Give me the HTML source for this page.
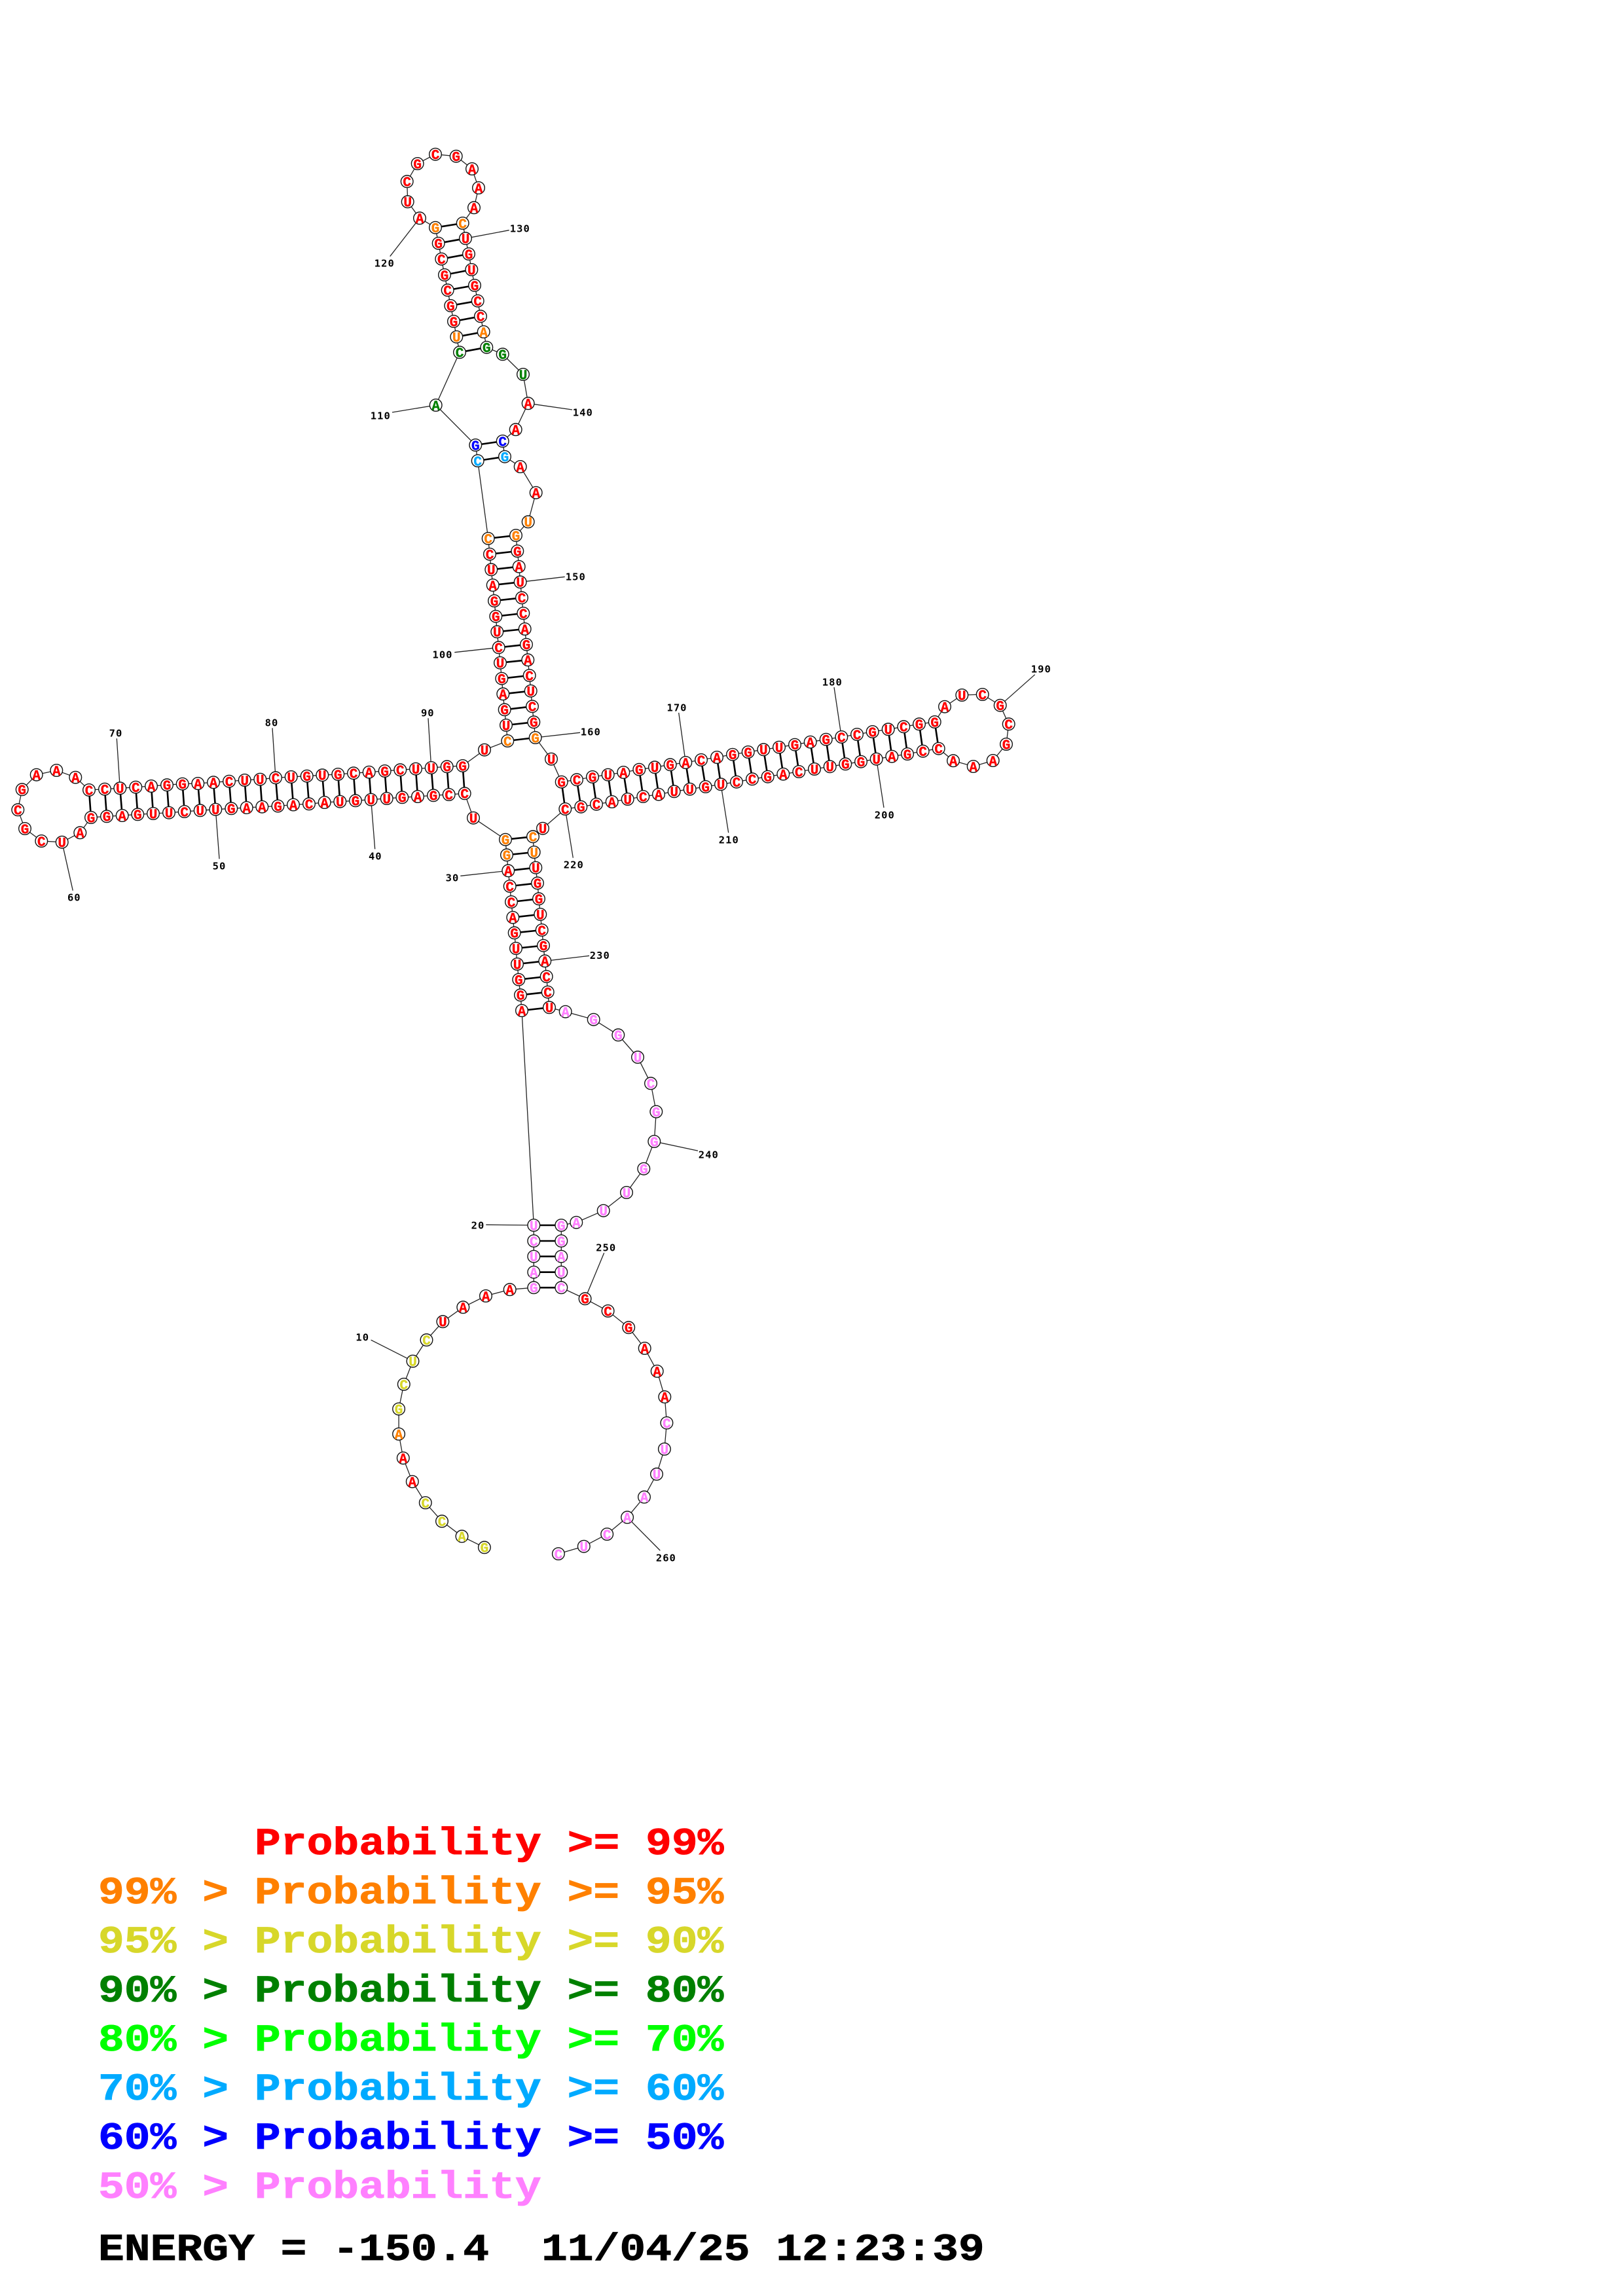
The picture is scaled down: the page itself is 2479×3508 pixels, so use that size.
<!DOCTYPE html>
<html><head><meta charset="utf-8"><title>RNA secondary structure</title>
<style>
html,body{margin:0;padding:0;background:#fff}
svg{display:block}
.n text{font:bold 21px "Liberation Mono",monospace;text-anchor:middle;stroke-width:.4}
.n g[fill="#f00"]{stroke:#f00}.n g[fill="#ff8000"]{stroke:#ff8000}.n g[fill="#d7d72a"]{stroke:#d7d72a}.n g[fill="#008000"]{stroke:#008000}.n g[fill="#00aaff"]{stroke:#00aaff}.n g[fill="#00f"]{stroke:#00f}.n g[fill="#ff80ff"]{stroke:#ff80ff}
.l text{font:bold 15.5px "DejaVu Sans Mono",monospace;letter-spacing:1px;text-anchor:middle;fill:#000}
.t text{font:bold 58px "Liberation Mono",monospace;stroke-width:.8}
</style></head><body>
<svg xmlns="http://www.w3.org/2000/svg" width="2479" height="3508" viewBox="0 0 2479 3508">
<rect width="2479" height="3508" fill="#fff"/>
<polyline fill="none" stroke="#222" stroke-width="1.3" points="739.9,2364.3 705.5,2347.3 675,2324.3 649.8,2296 629.8,2263.7 615.8,2227.7 609.1,2191 609.1,2152.7 616.8,2115 630.5,2079.7 651.5,2047.3 676.4,2019.3 707.3,1997.3 742,1980 778.7,1970.3 815.3,1967.3 815.3,1943.7 815.3,1919.7 815.3,1896 815.3,1872 797,1544 795,1520.3 792.3,1496.7 790,1473 788,1449 785.7,1425.3 783.3,1401.7 781,1378 778.7,1354 776.3,1330.3 774,1306.3 772,1282.7 723,1249.7 709.7,1212.3 685.7,1214 662,1215.3 638,1217 614.3,1218.3 590.7,1220 566.7,1221.7 543,1223.3 519.3,1224.7 495.7,1226 472,1228.3 448,1229.5 424.5,1231.5 400.3,1232.7 376.7,1234 353.3,1235.3 329.3,1236.7 305.7,1238.3 281.7,1240 258,1241.7 234,1243 210.3,1244.3 186.7,1246 163,1247.3 139,1249 122.3,1272.3 94.7,1286.7 63.3,1285 38,1266 27.3,1237.3 33.7,1206.3 55.7,1183.7 86.3,1177 115.3,1187.7 136,1207 160,1205.7 183.3,1204.3 207.3,1202.7 231,1201 255,1199.3 278.7,1197.7 302.3,1197 326,1195.3 350,1193.7 373.7,1192 397.3,1190.7 421,1188.3 444.7,1187 468.7,1185.7 492.3,1184.3 516.3,1183 540,1181.3 563.7,1179.7 587.7,1178 611.3,1176.3 635,1174.7 658.7,1173 682.7,1171.3 706.7,1170 740,1145.7 775.3,1132 773,1108 770.7,1084.3 768.3,1060.3 766.3,1036.7 764,1012.7 761.7,989.3 759.3,965.3 757.3,941.7 755,918 752.7,894 750.3,870.3 748,846.7 745.7,822.7 729.7,704 726.3,680 665.7,619 702,538.3 697.3,514.7 693,491 688.3,467 683.7,443.3 679,420 674.3,395.7 669.7,371.7 665,347.7 641,333.3 622.7,308.3 621.7,277.3 637.7,250 665,235.7 696.7,238.7 721,258 731,287 724,317.3 706.7,341 711,364.3 716,388 720.3,412 725,436 729.7,459.7 734,483.3 738.7,507 743.3,530.7 767.7,541.3 799,572 806.7,616.3 787.7,656.3 767.7,674 771,697.7 794.7,713 818.7,752.7 806.7,797.3 788,818 790.3,842 792.7,865.7 794.7,889.3 797,913.3 799.3,937 801.7,961 804,984.7 806.3,1008.3 808.7,1032 810.7,1055.7 813,1079.3 815.3,1103.3 817.7,1127 842,1159.7 857.7,1194.7 881,1191.3 905,1187 928.7,1183.7 952.3,1180 976.3,1175.7 1000,1172.3 1023.7,1168.3 1047.3,1165 1071,1161 1095,1157 1119,1152.7 1142.7,1149 1166.3,1145.3 1190,1141.7 1214,1137.7 1237.7,1133.7 1261.7,1129.7 1285.3,1126 1309,1122 1332.7,1118 1356.7,1114.3 1380.3,1110.3 1404,1106.3 1427.7,1103 1443,1079.7 1469.3,1062 1500.7,1061 1527.7,1077.7 1540.7,1106.3 1537,1137 1516.7,1162 1486.7,1171 1456,1162.3 1433.7,1143.7 1409.7,1147.7 1386,1152 1362.3,1155.7 1338.7,1159.7 1315,1163.7 1291.3,1167.3 1267.7,1171.3 1244,1175 1220.3,1179 1196.3,1182.7 1172.7,1186.7 1149,1190.3 1125,1194.7 1101,1198.3 1077.7,1202 1053.7,1205.7 1029.7,1209.3 1006,1213.7 982.3,1217 958.7,1221 934.7,1225 911,1228.7 887.3,1232.7 863.3,1236 829,1265.7 814,1278.3 815.7,1302 818.3,1325.7 821,1349.3 823,1373.3 825.3,1397 827.7,1421 830,1444.7 832.3,1468.3 834.7,1492 836.7,1515.7 839,1539.3 863.7,1545.7 906.7,1557.7 944.3,1581.3 974,1615.3 994,1655.3 1002.3,1698.5 999.3,1744 983.3,1785.7 957,1822 921.7,1849.7 880.3,1867.7 857.3,1872 857.3,1896 857.3,1919.7 857.3,1943.7 857.3,1967.3 893.6,1984.3 928.6,2003 960.2,2028.3 984.7,2060 1003.7,2095 1015.3,2134.3 1018.4,2174 1014.9,2214 1003,2252.3 984,2287.3 958.1,2318.3 927.2,2344 891.8,2362.7 852.9,2374"/>
<path fill="none" stroke="#000" stroke-width="2.6" d="M815.3 1967.3L857.3 1967.3M815.3 1943.7L857.3 1943.7M815.3 1919.7L857.3 1919.7M815.3 1896L857.3 1896M815.3 1872L857.3 1872M797 1544L839 1539.3M795 1520.3L836.7 1515.7M792.3 1496.7L834.7 1492M790 1473L832.3 1468.3M788 1449L830 1444.7M785.7 1425.3L827.7 1421M783.3 1401.7L825.3 1397M781 1378L823 1373.3M778.7 1354L821 1349.3M776.3 1330.3L818.3 1325.7M774 1306.3L815.7 1302M772 1282.7L814 1278.3M709.7 1212.3L706.7 1170M685.7 1214L682.7 1171.3M662 1215.3L658.7 1173M638 1217L635 1174.7M614.3 1218.3L611.3 1176.3M590.7 1220L587.7 1178M566.7 1221.7L563.7 1179.7M543 1223.3L540 1181.3M519.3 1224.7L516.3 1183M495.7 1226L492.3 1184.3M472 1228.3L468.7 1185.7M448 1229.5L444.7 1187M424.5 1231.5L421 1188.3M400.3 1232.7L397.3 1190.7M376.7 1234L373.7 1192M353.3 1235.3L350 1193.7M329.3 1236.7L326 1195.3M305.7 1238.3L302.3 1197M281.7 1240L278.7 1197.7M258 1241.7L255 1199.3M234 1243L231 1201M210.3 1244.3L207.3 1202.7M186.7 1246L183.3 1204.3M163 1247.3L160 1205.7M139 1249L136 1207M775.3 1132L817.7 1127M773 1108L815.3 1103.3M770.7 1084.3L813 1079.3M768.3 1060.3L810.7 1055.7M766.3 1036.7L808.7 1032M764 1012.7L806.3 1008.3M761.7 989.3L804 984.7M759.3 965.3L801.7 961M757.3 941.7L799.3 937M755 918L797 913.3M752.7 894L794.7 889.3M750.3 870.3L792.7 865.7M748 846.7L790.3 842M745.7 822.7L788 818M729.7 704L771 697.7M726.3 680L767.7 674M702 538.3L743.3 530.7M697.3 514.7L738.7 507M693 491L734 483.3M688.3 467L729.7 459.7M683.7 443.3L725 436M679 420L720.3 412M674.3 395.7L716 388M669.7 371.7L711 364.3M665 347.7L706.7 341M857.7 1194.7L863.3 1236M881 1191.3L887.3 1232.7M905 1187L911 1228.7M928.7 1183.7L934.7 1225M952.3 1180L958.7 1221M976.3 1175.7L982.3 1217M1000 1172.3L1006 1213.7M1023.7 1168.3L1029.7 1209.3M1047.3 1165L1053.7 1205.7M1071 1161L1077.7 1202M1095 1157L1101 1198.3M1119 1152.7L1125 1194.7M1142.7 1149L1149 1190.3M1166.3 1145.3L1172.7 1186.7M1190 1141.7L1196.3 1182.7M1214 1137.7L1220.3 1179M1237.7 1133.7L1244 1175M1261.7 1129.7L1267.7 1171.3M1285.3 1126L1291.3 1167.3M1309 1122L1315 1163.7M1332.7 1118L1338.7 1159.7M1356.7 1114.3L1362.3 1155.7M1380.3 1110.3L1386 1152M1404 1106.3L1409.7 1147.7M1427.7 1103L1433.7 1143.7"/>
<path fill="none" stroke="#222" stroke-width="1.3" d="M641 333.3L595.7 391.7M711 364.3L777.7 351.7M665.7 619L599 630M806.7 616.3L874 626M794.7 889.3L862.7 881.3M761.7 989.3L694.3 996.7M658.7 1173L654 1097.3M817.7 1127L886 1119.3M183.3 1204.3L178.3 1128.3M421 1188.3L416 1112.3M94.7 1286.7L111.3 1360.7M329.3 1236.7L335 1312.3M566.7 1221.7L572.7 1297.3M776.3 1330.3L703.3 1338.3M1047.3 1165L1036.7 1089M1101 1198.3L1112.7 1272.3M863.3 1236L875.3 1310.7M1285.3 1126L1274 1050M1527.7 1077.7L1580.7 1030.7M1338.7 1159.7L1350 1234M832.3 1468.3L900 1460.3M815.3 1872L742.3 1871.3M999.3 1744L1066 1758.3M893.6 1984.3L922.7 1914.3M630.5 2079.7L566.6 2047.3M958.1 2318.3L1008.3 2369"/>
<g fill="#fff" stroke="#111" stroke-width="1.4">
<circle cx="739.9" cy="2364.3" r="9.3"/><circle cx="705.5" cy="2347.3" r="9.3"/><circle cx="675" cy="2324.3" r="9.3"/><circle cx="649.8" cy="2296" r="9.3"/><circle cx="629.8" cy="2263.7" r="9.3"/><circle cx="615.8" cy="2227.7" r="9.3"/><circle cx="609.1" cy="2191" r="9.3"/><circle cx="609.1" cy="2152.7" r="9.3"/><circle cx="616.8" cy="2115" r="9.3"/><circle cx="630.5" cy="2079.7" r="9.3"/><circle cx="651.5" cy="2047.3" r="9.3"/><circle cx="676.4" cy="2019.3" r="9.3"/><circle cx="707.3" cy="1997.3" r="9.3"/><circle cx="742" cy="1980" r="9.3"/><circle cx="778.7" cy="1970.3" r="9.3"/><circle cx="815.3" cy="1967.3" r="9.3"/><circle cx="815.3" cy="1943.7" r="9.3"/><circle cx="815.3" cy="1919.7" r="9.3"/><circle cx="815.3" cy="1896" r="9.3"/><circle cx="815.3" cy="1872" r="9.3"/><circle cx="797" cy="1544" r="9.3"/><circle cx="795" cy="1520.3" r="9.3"/><circle cx="792.3" cy="1496.7" r="9.3"/><circle cx="790" cy="1473" r="9.3"/><circle cx="788" cy="1449" r="9.3"/><circle cx="785.7" cy="1425.3" r="9.3"/><circle cx="783.3" cy="1401.7" r="9.3"/><circle cx="781" cy="1378" r="9.3"/><circle cx="778.7" cy="1354" r="9.3"/><circle cx="776.3" cy="1330.3" r="9.3"/><circle cx="774" cy="1306.3" r="9.3"/><circle cx="772" cy="1282.7" r="9.3"/><circle cx="723" cy="1249.7" r="9.3"/><circle cx="709.7" cy="1212.3" r="9.3"/><circle cx="685.7" cy="1214" r="9.3"/><circle cx="662" cy="1215.3" r="9.3"/><circle cx="638" cy="1217" r="9.3"/><circle cx="614.3" cy="1218.3" r="9.3"/><circle cx="590.7" cy="1220" r="9.3"/><circle cx="566.7" cy="1221.7" r="9.3"/><circle cx="543" cy="1223.3" r="9.3"/><circle cx="519.3" cy="1224.7" r="9.3"/><circle cx="495.7" cy="1226" r="9.3"/><circle cx="472" cy="1228.3" r="9.3"/><circle cx="448" cy="1229.5" r="9.3"/><circle cx="424.5" cy="1231.5" r="9.3"/><circle cx="400.3" cy="1232.7" r="9.3"/><circle cx="376.7" cy="1234" r="9.3"/><circle cx="353.3" cy="1235.3" r="9.3"/><circle cx="329.3" cy="1236.7" r="9.3"/><circle cx="305.7" cy="1238.3" r="9.3"/><circle cx="281.7" cy="1240" r="9.3"/><circle cx="258" cy="1241.7" r="9.3"/><circle cx="234" cy="1243" r="9.3"/><circle cx="210.3" cy="1244.3" r="9.3"/><circle cx="186.7" cy="1246" r="9.3"/><circle cx="163" cy="1247.3" r="9.3"/><circle cx="139" cy="1249" r="9.3"/><circle cx="122.3" cy="1272.3" r="9.3"/><circle cx="94.7" cy="1286.7" r="9.3"/><circle cx="63.3" cy="1285" r="9.3"/><circle cx="38" cy="1266" r="9.3"/><circle cx="27.3" cy="1237.3" r="9.3"/><circle cx="33.7" cy="1206.3" r="9.3"/><circle cx="55.7" cy="1183.7" r="9.3"/><circle cx="86.3" cy="1177" r="9.3"/><circle cx="115.3" cy="1187.7" r="9.3"/><circle cx="136" cy="1207" r="9.3"/><circle cx="160" cy="1205.7" r="9.3"/><circle cx="183.3" cy="1204.3" r="9.3"/><circle cx="207.3" cy="1202.7" r="9.3"/><circle cx="231" cy="1201" r="9.3"/><circle cx="255" cy="1199.3" r="9.3"/><circle cx="278.7" cy="1197.7" r="9.3"/><circle cx="302.3" cy="1197" r="9.3"/><circle cx="326" cy="1195.3" r="9.3"/><circle cx="350" cy="1193.7" r="9.3"/><circle cx="373.7" cy="1192" r="9.3"/><circle cx="397.3" cy="1190.7" r="9.3"/><circle cx="421" cy="1188.3" r="9.3"/><circle cx="444.7" cy="1187" r="9.3"/><circle cx="468.7" cy="1185.7" r="9.3"/><circle cx="492.3" cy="1184.3" r="9.3"/><circle cx="516.3" cy="1183" r="9.3"/><circle cx="540" cy="1181.3" r="9.3"/><circle cx="563.7" cy="1179.7" r="9.3"/><circle cx="587.7" cy="1178" r="9.3"/><circle cx="611.3" cy="1176.3" r="9.3"/><circle cx="635" cy="1174.7" r="9.3"/><circle cx="658.7" cy="1173" r="9.3"/><circle cx="682.7" cy="1171.3" r="9.3"/><circle cx="706.7" cy="1170" r="9.3"/><circle cx="740" cy="1145.7" r="9.3"/><circle cx="775.3" cy="1132" r="9.3"/><circle cx="773" cy="1108" r="9.3"/><circle cx="770.7" cy="1084.3" r="9.3"/><circle cx="768.3" cy="1060.3" r="9.3"/><circle cx="766.3" cy="1036.7" r="9.3"/><circle cx="764" cy="1012.7" r="9.3"/><circle cx="761.7" cy="989.3" r="9.3"/><circle cx="759.3" cy="965.3" r="9.3"/><circle cx="757.3" cy="941.7" r="9.3"/><circle cx="755" cy="918" r="9.3"/><circle cx="752.7" cy="894" r="9.3"/><circle cx="750.3" cy="870.3" r="9.3"/><circle cx="748" cy="846.7" r="9.3"/><circle cx="745.7" cy="822.7" r="9.3"/><circle cx="729.7" cy="704" r="9.3"/><circle cx="726.3" cy="680" r="9.3"/><circle cx="665.7" cy="619" r="9.3"/><circle cx="702" cy="538.3" r="9.3"/><circle cx="697.3" cy="514.7" r="9.3"/><circle cx="693" cy="491" r="9.3"/><circle cx="688.3" cy="467" r="9.3"/><circle cx="683.7" cy="443.3" r="9.3"/><circle cx="679" cy="420" r="9.3"/><circle cx="674.3" cy="395.7" r="9.3"/><circle cx="669.7" cy="371.7" r="9.3"/><circle cx="665" cy="347.7" r="9.3"/><circle cx="641" cy="333.3" r="9.3"/><circle cx="622.7" cy="308.3" r="9.3"/><circle cx="621.7" cy="277.3" r="9.3"/><circle cx="637.7" cy="250" r="9.3"/><circle cx="665" cy="235.7" r="9.3"/><circle cx="696.7" cy="238.7" r="9.3"/><circle cx="721" cy="258" r="9.3"/><circle cx="731" cy="287" r="9.3"/><circle cx="724" cy="317.3" r="9.3"/><circle cx="706.7" cy="341" r="9.3"/><circle cx="711" cy="364.3" r="9.3"/><circle cx="716" cy="388" r="9.3"/><circle cx="720.3" cy="412" r="9.3"/><circle cx="725" cy="436" r="9.3"/><circle cx="729.7" cy="459.7" r="9.3"/><circle cx="734" cy="483.3" r="9.3"/><circle cx="738.7" cy="507" r="9.3"/><circle cx="743.3" cy="530.7" r="9.3"/><circle cx="767.7" cy="541.3" r="9.3"/><circle cx="799" cy="572" r="9.3"/><circle cx="806.7" cy="616.3" r="9.3"/><circle cx="787.7" cy="656.3" r="9.3"/><circle cx="767.7" cy="674" r="9.3"/><circle cx="771" cy="697.7" r="9.3"/><circle cx="794.7" cy="713" r="9.3"/><circle cx="818.7" cy="752.7" r="9.3"/><circle cx="806.7" cy="797.3" r="9.3"/><circle cx="788" cy="818" r="9.3"/><circle cx="790.3" cy="842" r="9.3"/><circle cx="792.7" cy="865.7" r="9.3"/><circle cx="794.7" cy="889.3" r="9.3"/><circle cx="797" cy="913.3" r="9.3"/><circle cx="799.3" cy="937" r="9.3"/><circle cx="801.7" cy="961" r="9.3"/><circle cx="804" cy="984.7" r="9.3"/><circle cx="806.3" cy="1008.3" r="9.3"/><circle cx="808.7" cy="1032" r="9.3"/><circle cx="810.7" cy="1055.7" r="9.3"/><circle cx="813" cy="1079.3" r="9.3"/><circle cx="815.3" cy="1103.3" r="9.3"/><circle cx="817.7" cy="1127" r="9.3"/><circle cx="842" cy="1159.7" r="9.3"/><circle cx="857.7" cy="1194.7" r="9.3"/><circle cx="881" cy="1191.3" r="9.3"/><circle cx="905" cy="1187" r="9.3"/><circle cx="928.7" cy="1183.7" r="9.3"/><circle cx="952.3" cy="1180" r="9.3"/><circle cx="976.3" cy="1175.7" r="9.3"/><circle cx="1000" cy="1172.3" r="9.3"/><circle cx="1023.7" cy="1168.3" r="9.3"/><circle cx="1047.3" cy="1165" r="9.3"/><circle cx="1071" cy="1161" r="9.3"/><circle cx="1095" cy="1157" r="9.3"/><circle cx="1119" cy="1152.7" r="9.3"/><circle cx="1142.7" cy="1149" r="9.3"/><circle cx="1166.3" cy="1145.3" r="9.3"/><circle cx="1190" cy="1141.7" r="9.3"/><circle cx="1214" cy="1137.7" r="9.3"/><circle cx="1237.7" cy="1133.7" r="9.3"/><circle cx="1261.7" cy="1129.7" r="9.3"/><circle cx="1285.3" cy="1126" r="9.3"/><circle cx="1309" cy="1122" r="9.3"/><circle cx="1332.7" cy="1118" r="9.3"/><circle cx="1356.7" cy="1114.3" r="9.3"/><circle cx="1380.3" cy="1110.3" r="9.3"/><circle cx="1404" cy="1106.3" r="9.3"/><circle cx="1427.7" cy="1103" r="9.3"/><circle cx="1443" cy="1079.7" r="9.3"/><circle cx="1469.3" cy="1062" r="9.3"/><circle cx="1500.7" cy="1061" r="9.3"/><circle cx="1527.7" cy="1077.7" r="9.3"/><circle cx="1540.7" cy="1106.3" r="9.3"/><circle cx="1537" cy="1137" r="9.3"/><circle cx="1516.7" cy="1162" r="9.3"/><circle cx="1486.7" cy="1171" r="9.3"/><circle cx="1456" cy="1162.3" r="9.3"/><circle cx="1433.7" cy="1143.7" r="9.3"/><circle cx="1409.7" cy="1147.7" r="9.3"/><circle cx="1386" cy="1152" r="9.3"/><circle cx="1362.3" cy="1155.7" r="9.3"/><circle cx="1338.7" cy="1159.7" r="9.3"/><circle cx="1315" cy="1163.7" r="9.3"/><circle cx="1291.3" cy="1167.3" r="9.3"/><circle cx="1267.7" cy="1171.3" r="9.3"/><circle cx="1244" cy="1175" r="9.3"/><circle cx="1220.3" cy="1179" r="9.3"/><circle cx="1196.3" cy="1182.7" r="9.3"/><circle cx="1172.7" cy="1186.7" r="9.3"/><circle cx="1149" cy="1190.3" r="9.3"/><circle cx="1125" cy="1194.7" r="9.3"/><circle cx="1101" cy="1198.3" r="9.3"/><circle cx="1077.7" cy="1202" r="9.3"/><circle cx="1053.7" cy="1205.7" r="9.3"/><circle cx="1029.7" cy="1209.3" r="9.3"/><circle cx="1006" cy="1213.7" r="9.3"/><circle cx="982.3" cy="1217" r="9.3"/><circle cx="958.7" cy="1221" r="9.3"/><circle cx="934.7" cy="1225" r="9.3"/><circle cx="911" cy="1228.7" r="9.3"/><circle cx="887.3" cy="1232.7" r="9.3"/><circle cx="863.3" cy="1236" r="9.3"/><circle cx="829" cy="1265.7" r="9.3"/><circle cx="814" cy="1278.3" r="9.3"/><circle cx="815.7" cy="1302" r="9.3"/><circle cx="818.3" cy="1325.7" r="9.3"/><circle cx="821" cy="1349.3" r="9.3"/><circle cx="823" cy="1373.3" r="9.3"/><circle cx="825.3" cy="1397" r="9.3"/><circle cx="827.7" cy="1421" r="9.3"/><circle cx="830" cy="1444.7" r="9.3"/><circle cx="832.3" cy="1468.3" r="9.3"/><circle cx="834.7" cy="1492" r="9.3"/><circle cx="836.7" cy="1515.7" r="9.3"/><circle cx="839" cy="1539.3" r="9.3"/><circle cx="863.7" cy="1545.7" r="9.3"/><circle cx="906.7" cy="1557.7" r="9.3"/><circle cx="944.3" cy="1581.3" r="9.3"/><circle cx="974" cy="1615.3" r="9.3"/><circle cx="994" cy="1655.3" r="9.3"/><circle cx="1002.3" cy="1698.5" r="9.3"/><circle cx="999.3" cy="1744" r="9.3"/><circle cx="983.3" cy="1785.7" r="9.3"/><circle cx="957" cy="1822" r="9.3"/><circle cx="921.7" cy="1849.7" r="9.3"/><circle cx="880.3" cy="1867.7" r="9.3"/><circle cx="857.3" cy="1872" r="9.3"/><circle cx="857.3" cy="1896" r="9.3"/><circle cx="857.3" cy="1919.7" r="9.3"/><circle cx="857.3" cy="1943.7" r="9.3"/><circle cx="857.3" cy="1967.3" r="9.3"/><circle cx="893.6" cy="1984.3" r="9.3"/><circle cx="928.6" cy="2003" r="9.3"/><circle cx="960.2" cy="2028.3" r="9.3"/><circle cx="984.7" cy="2060" r="9.3"/><circle cx="1003.7" cy="2095" r="9.3"/><circle cx="1015.3" cy="2134.3" r="9.3"/><circle cx="1018.4" cy="2174" r="9.3"/><circle cx="1014.9" cy="2214" r="9.3"/><circle cx="1003" cy="2252.3" r="9.3"/><circle cx="984" cy="2287.3" r="9.3"/><circle cx="958.1" cy="2318.3" r="9.3"/><circle cx="927.2" cy="2344" r="9.3"/><circle cx="891.8" cy="2362.7" r="9.3"/><circle cx="852.9" cy="2374" r="9.3"/>
</g>
<g class="n" transform="translate(0,7.3)">
<g fill="#d7d72a"><text x="739.9" y="2364.3">G</text><text x="705.5" y="2347.3">A</text><text x="675" y="2324.3">C</text><text x="649.8" y="2296">C</text></g>
<g fill="#f00"><text x="629.8" y="2263.7">A</text><text x="615.8" y="2227.7">A</text></g>
<g fill="#ff8000"><text x="609.1" y="2191">A</text></g>
<g fill="#d7d72a"><text x="609.1" y="2152.7">G</text><text x="616.8" y="2115">C</text><text x="630.5" y="2079.7">U</text><text x="651.5" y="2047.3">C</text></g>
<g fill="#f00"><text x="676.4" y="2019.3">U</text><text x="707.3" y="1997.3">A</text><text x="742" y="1980">A</text><text x="778.7" y="1970.3">A</text></g>
<g fill="#ff80ff"><text x="815.3" y="1967.3">G</text><text x="815.3" y="1943.7">A</text><text x="815.3" y="1919.7">U</text><text x="815.3" y="1896">C</text><text x="815.3" y="1872">U</text></g>
<g fill="#f00"><text x="797" y="1544">A</text><text x="795" y="1520.3">G</text><text x="792.3" y="1496.7">G</text><text x="790" y="1473">U</text><text x="788" y="1449">U</text><text x="785.7" y="1425.3">G</text><text x="783.3" y="1401.7">A</text><text x="781" y="1378">C</text><text x="778.7" y="1354">C</text><text x="776.3" y="1330.3">A</text></g>
<g fill="#ff8000"><text x="774" y="1306.3">G</text><text x="772" y="1282.7">G</text></g>
<g fill="#f00"><text x="723" y="1249.7">U</text><text x="709.7" y="1212.3">C</text><text x="685.7" y="1214">C</text><text x="662" y="1215.3">G</text><text x="638" y="1217">A</text><text x="614.3" y="1218.3">G</text><text x="590.7" y="1220">U</text><text x="566.7" y="1221.7">U</text><text x="543" y="1223.3">G</text><text x="519.3" y="1224.7">U</text><text x="495.7" y="1226">A</text><text x="472" y="1228.3">C</text><text x="448" y="1229.5">A</text><text x="424.5" y="1231.5">G</text><text x="400.3" y="1232.7">A</text><text x="376.7" y="1234">A</text><text x="353.3" y="1235.3">G</text><text x="329.3" y="1236.7">U</text><text x="305.7" y="1238.3">U</text><text x="281.7" y="1240">C</text><text x="258" y="1241.7">U</text><text x="234" y="1243">U</text><text x="210.3" y="1244.3">G</text><text x="186.7" y="1246">A</text><text x="163" y="1247.3">G</text><text x="139" y="1249">G</text><text x="122.3" y="1272.3">A</text><text x="94.7" y="1286.7">U</text><text x="63.3" y="1285">C</text><text x="38" y="1266">G</text><text x="27.3" y="1237.3">C</text><text x="33.7" y="1206.3">G</text><text x="55.7" y="1183.7">A</text><text x="86.3" y="1177">A</text><text x="115.3" y="1187.7">A</text><text x="136" y="1207">C</text><text x="160" y="1205.7">C</text><text x="183.3" y="1204.3">U</text><text x="207.3" y="1202.7">C</text><text x="231" y="1201">A</text><text x="255" y="1199.3">G</text><text x="278.7" y="1197.7">G</text><text x="302.3" y="1197">A</text><text x="326" y="1195.3">A</text><text x="350" y="1193.7">C</text><text x="373.7" y="1192">U</text><text x="397.3" y="1190.7">U</text><text x="421" y="1188.3">C</text><text x="444.7" y="1187">U</text><text x="468.7" y="1185.7">G</text><text x="492.3" y="1184.3">U</text><text x="516.3" y="1183">G</text><text x="540" y="1181.3">C</text><text x="563.7" y="1179.7">A</text><text x="587.7" y="1178">G</text><text x="611.3" y="1176.3">C</text><text x="635" y="1174.7">U</text><text x="658.7" y="1173">U</text><text x="682.7" y="1171.3">G</text><text x="706.7" y="1170">G</text><text x="740" y="1145.7">U</text></g>
<g fill="#ff8000"><text x="775.3" y="1132">C</text></g>
<g fill="#f00"><text x="773" y="1108">U</text><text x="770.7" y="1084.3">G</text><text x="768.3" y="1060.3">A</text><text x="766.3" y="1036.7">G</text><text x="764" y="1012.7">U</text><text x="761.7" y="989.3">C</text><text x="759.3" y="965.3">U</text><text x="757.3" y="941.7">G</text><text x="755" y="918">G</text><text x="752.7" y="894">A</text><text x="750.3" y="870.3">U</text><text x="748" y="846.7">C</text></g>
<g fill="#ff8000"><text x="745.7" y="822.7">C</text></g>
<g fill="#00aaff"><text x="729.7" y="704">C</text></g>
<g fill="#00f"><text x="726.3" y="680">G</text></g>
<g fill="#008000"><text x="665.7" y="619">A</text><text x="702" y="538.3">C</text></g>
<g fill="#ff8000"><text x="697.3" y="514.7">U</text></g>
<g fill="#f00"><text x="693" y="491">G</text><text x="688.3" y="467">G</text><text x="683.7" y="443.3">C</text><text x="679" y="420">G</text><text x="674.3" y="395.7">C</text><text x="669.7" y="371.7">G</text></g>
<g fill="#ff8000"><text x="665" y="347.7">G</text></g>
<g fill="#f00"><text x="641" y="333.3">A</text><text x="622.7" y="308.3">U</text><text x="621.7" y="277.3">C</text><text x="637.7" y="250">G</text><text x="665" y="235.7">C</text><text x="696.7" y="238.7">G</text><text x="721" y="258">A</text><text x="731" y="287">A</text><text x="724" y="317.3">A</text></g>
<g fill="#ff8000"><text x="706.7" y="341">C</text></g>
<g fill="#f00"><text x="711" y="364.3">U</text><text x="716" y="388">G</text><text x="720.3" y="412">U</text><text x="725" y="436">G</text><text x="729.7" y="459.7">C</text><text x="734" y="483.3">C</text></g>
<g fill="#ff8000"><text x="738.7" y="507">A</text></g>
<g fill="#008000"><text x="743.3" y="530.7">G</text><text x="767.7" y="541.3">G</text><text x="799" y="572">U</text></g>
<g fill="#f00"><text x="806.7" y="616.3">A</text><text x="787.7" y="656.3">A</text></g>
<g fill="#00f"><text x="767.7" y="674">C</text></g>
<g fill="#00aaff"><text x="771" y="697.7">G</text></g>
<g fill="#f00"><text x="794.7" y="713">A</text><text x="818.7" y="752.7">A</text></g>
<g fill="#ff8000"><text x="806.7" y="797.3">U</text><text x="788" y="818">G</text></g>
<g fill="#f00"><text x="790.3" y="842">G</text><text x="792.7" y="865.7">A</text><text x="794.7" y="889.3">U</text><text x="797" y="913.3">C</text><text x="799.3" y="937">C</text><text x="801.7" y="961">A</text><text x="804" y="984.7">G</text><text x="806.3" y="1008.3">A</text><text x="808.7" y="1032">C</text><text x="810.7" y="1055.7">U</text><text x="813" y="1079.3">C</text><text x="815.3" y="1103.3">G</text></g>
<g fill="#ff8000"><text x="817.7" y="1127">G</text></g>
<g fill="#f00"><text x="842" y="1159.7">U</text><text x="857.7" y="1194.7">G</text><text x="881" y="1191.3">C</text><text x="905" y="1187">G</text><text x="928.7" y="1183.7">U</text><text x="952.3" y="1180">A</text><text x="976.3" y="1175.7">G</text><text x="1000" y="1172.3">U</text><text x="1023.7" y="1168.3">G</text><text x="1047.3" y="1165">A</text><text x="1071" y="1161">C</text><text x="1095" y="1157">A</text><text x="1119" y="1152.7">G</text><text x="1142.7" y="1149">G</text><text x="1166.3" y="1145.3">U</text><text x="1190" y="1141.7">U</text><text x="1214" y="1137.7">G</text><text x="1237.7" y="1133.7">A</text><text x="1261.7" y="1129.7">G</text><text x="1285.3" y="1126">C</text><text x="1309" y="1122">C</text><text x="1332.7" y="1118">G</text><text x="1356.7" y="1114.3">U</text><text x="1380.3" y="1110.3">C</text><text x="1404" y="1106.3">G</text><text x="1427.7" y="1103">G</text><text x="1443" y="1079.7">A</text><text x="1469.3" y="1062">U</text><text x="1500.7" y="1061">C</text><text x="1527.7" y="1077.7">G</text><text x="1540.7" y="1106.3">C</text><text x="1537" y="1137">G</text><text x="1516.7" y="1162">A</text><text x="1486.7" y="1171">A</text><text x="1456" y="1162.3">A</text><text x="1433.7" y="1143.7">C</text><text x="1409.7" y="1147.7">C</text><text x="1386" y="1152">G</text><text x="1362.3" y="1155.7">A</text><text x="1338.7" y="1159.7">U</text><text x="1315" y="1163.7">G</text><text x="1291.3" y="1167.3">G</text><text x="1267.7" y="1171.3">U</text><text x="1244" y="1175">U</text><text x="1220.3" y="1179">C</text><text x="1196.3" y="1182.7">A</text><text x="1172.7" y="1186.7">G</text><text x="1149" y="1190.3">C</text><text x="1125" y="1194.7">C</text><text x="1101" y="1198.3">U</text><text x="1077.7" y="1202">G</text><text x="1053.7" y="1205.7">U</text><text x="1029.7" y="1209.3">U</text><text x="1006" y="1213.7">A</text><text x="982.3" y="1217">C</text><text x="958.7" y="1221">U</text><text x="934.7" y="1225">A</text><text x="911" y="1228.7">C</text><text x="887.3" y="1232.7">G</text><text x="863.3" y="1236">C</text><text x="829" y="1265.7">U</text></g>
<g fill="#ff8000"><text x="814" y="1278.3">C</text><text x="815.7" y="1302">U</text></g>
<g fill="#f00"><text x="818.3" y="1325.7">U</text><text x="821" y="1349.3">G</text><text x="823" y="1373.3">G</text><text x="825.3" y="1397">U</text><text x="827.7" y="1421">C</text><text x="830" y="1444.7">G</text><text x="832.3" y="1468.3">A</text><text x="834.7" y="1492">C</text><text x="836.7" y="1515.7">C</text><text x="839" y="1539.3">U</text></g>
<g fill="#ff80ff"><text x="863.7" y="1545.7">A</text><text x="906.7" y="1557.7">G</text><text x="944.3" y="1581.3">G</text><text x="974" y="1615.3">U</text><text x="994" y="1655.3">C</text><text x="1002.3" y="1698.5">G</text><text x="999.3" y="1744">G</text><text x="983.3" y="1785.7">G</text><text x="957" y="1822">U</text><text x="921.7" y="1849.7">U</text><text x="880.3" y="1867.7">A</text><text x="857.3" y="1872">G</text><text x="857.3" y="1896">G</text><text x="857.3" y="1919.7">A</text><text x="857.3" y="1943.7">U</text><text x="857.3" y="1967.3">C</text></g>
<g fill="#f00"><text x="893.6" y="1984.3">G</text><text x="928.6" y="2003">C</text><text x="960.2" y="2028.3">G</text><text x="984.7" y="2060">A</text><text x="1003.7" y="2095">A</text><text x="1015.3" y="2134.3">A</text></g>
<g fill="#ff80ff"><text x="1018.4" y="2174">C</text><text x="1014.9" y="2214">U</text><text x="1003" y="2252.3">U</text><text x="984" y="2287.3">A</text><text x="958.1" y="2318.3">A</text><text x="927.2" y="2344">C</text><text x="891.8" y="2362.7">U</text><text x="852.9" y="2374">C</text></g>
</g>
<g class="l" transform="translate(0,6)">
<text x="553.7" y="2042.7">10</text><text x="730" y="1871.7">20</text><text x="691" y="1340.3">30</text><text x="573.3" y="1307.7">40</text><text x="335" y="1322.3">50</text><text x="113.3" y="1370.7">60</text><text x="177" y="1119.7">70</text><text x="415" y="1103.7">80</text><text x="653.3" y="1088.7">90</text><text x="676" y="999.3">100</text><text x="581.3" y="634.7">110</text><text x="587.3" y="401.7">120</text><text x="794.3" y="348.7">130</text><text x="890.3" y="629.7">140</text><text x="879.3" y="880.7">150</text><text x="902.3" y="1117.7">160</text><text x="1034" y="1080.7">170</text><text x="1271.3" y="1041.7">180</text><text x="1590.3" y="1021.7">190</text><text x="1351.3" y="1244.7">200</text><text x="1113.3" y="1282.3">210</text><text x="876.3" y="1320.3">220</text><text x="916.3" y="1459">230</text><text x="1082.3" y="1763.7">240</text><text x="925.7" y="1905.7">250</text><text x="1017.4" y="2379.7">260</text>
</g>
<g class="t">
<text transform="translate(389,2833) scale(1.144,1)" fill="#f00" stroke="#f00">Probability &gt;= 99%</text>
<text transform="translate(150,2908) scale(1.144,1)" fill="#ff8000" stroke="#ff8000">99% &gt; Probability &gt;= 95%</text>
<text transform="translate(150,2983) scale(1.144,1)" fill="#d7d72a" stroke="#d7d72a">95% &gt; Probability &gt;= 90%</text>
<text transform="translate(150,3058) scale(1.144,1)" fill="#008000" stroke="#008000">90% &gt; Probability &gt;= 80%</text>
<text transform="translate(150,3133) scale(1.144,1)" fill="#0f0" stroke="#0f0">80% &gt; Probability &gt;= 70%</text>
<text transform="translate(150,3208) scale(1.144,1)" fill="#00aaff" stroke="#00aaff">70% &gt; Probability &gt;= 60%</text>
<text transform="translate(150,3283) scale(1.144,1)" fill="#00f" stroke="#00f">60% &gt; Probability &gt;= 50%</text>
<text transform="translate(150,3358) scale(1.144,1)" fill="#ff80ff" stroke="#ff80ff">50% &gt; Probability</text>
<text transform="translate(150,3453) scale(1.144,1)" fill="#000" stroke="#000">ENERGY = -150.4</text>
<text transform="translate(827,3453) scale(1.144,1)" fill="#000" stroke="#000">11/04/25 12:23:39</text>
</g>
</svg>
</body></html>
